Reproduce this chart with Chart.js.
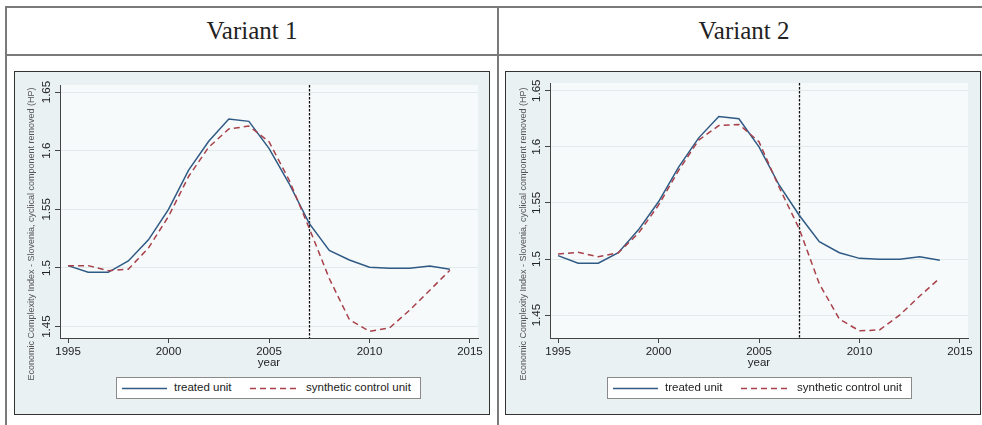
<!DOCTYPE html>
<html>
<head>
<meta charset="utf-8">
<script src="https://cdn.jsdelivr.net/npm/chart.js@4.4.1/dist/chart.umd.min.js"></script>
<style>
  body { margin: 0; width: 982px; height: 425px; overflow: hidden; background: #fff; position: relative;
         font-family: "Liberation Sans", Arial, sans-serif; }
  .rule { position: absolute; background: #7a7a7a; }
  .head { position: absolute; top: 8px; height: 46px; line-height: 46px; text-align: center;
          font-family: "Liberation Serif", "Times New Roman", serif; font-size: 25px; color: #222; }
  canvas { position: absolute; }
  .legend { position: absolute; width: 303px; height: 20px; background: #fff; border: 1px solid #8a8a8a;
            font-size: 11.5px; color: #222; }
  .legend svg, .legend span { position: absolute; }
  .legend span { top: 3px; }
</style>
</head>
<body>
<div class="rule" style="left:5px; top:6px; width:990px; height:2px"></div>
<div class="rule" style="left:5px; top:54px; width:990px; height:2px"></div>
<div class="rule" style="left:5px; top:6px; width:2px; height:430px"></div>
<div class="rule" style="left:497px; top:6px; width:2px; height:430px"></div>
<div class="head" style="left:7px; width:490px">Variant 1</div>
<div class="head" style="left:499px; width:490px">Variant 2</div>

<canvas id="chart1" width="476" height="344" style="left:14px; top:71px"></canvas>
<canvas id="chart2" width="476" height="344" style="left:505px; top:71px"></canvas>

<div class="legend" style="left:116px; top:377px">
  <svg width="46" height="20" style="left:5px; top:0"><line x1="0" y1="10.5" x2="45" y2="10.5" stroke="#2f5a85" stroke-width="1.5"/></svg>
  <span style="left:57px">treated unit</span>
  <svg width="50" height="20" style="left:133px; top:0"><line x1="0" y1="10.5" x2="48" y2="10.5" stroke="#a8414b" stroke-width="1.5" stroke-dasharray="6,4"/></svg>
  <span style="left:189px">synthetic control unit</span>
</div>
<div class="legend" style="left:607px; top:377px">
  <svg width="46" height="20" style="left:5px; top:0"><line x1="0" y1="10.5" x2="45" y2="10.5" stroke="#2f5a85" stroke-width="1.5"/></svg>
  <span style="left:57px">treated unit</span>
  <svg width="50" height="20" style="left:133px; top:0"><line x1="0" y1="10.5" x2="48" y2="10.5" stroke="#a8414b" stroke-width="1.5" stroke-dasharray="6,4"/></svg>
  <span style="left:189px">synthetic control unit</span>
</div>

<script>
// years and series
const years = [1995, 1996, 1997, 1998, 1999, 2000, 2001, 2002, 2003, 2004,
               2005, 2006, 2007, 2008, 2009, 2010, 2011, 2012, 2013, 2014];
const v1Treated   = [1.502, 1.4963, 1.4963, 1.506, 1.524, 1.550, 1.5835, 1.608, 1.627, 1.625,
                     1.602, 1.572, 1.538, 1.515, 1.5068, 1.5006, 1.4997, 1.4997, 1.5017, 1.499];
const v1Synthetic = [1.502, 1.502, 1.4977, 1.499, 1.517, 1.544, 1.578, 1.603, 1.6185, 1.621,
                     1.6077, 1.575, 1.534, 1.491, 1.456, 1.446, 1.4489, 1.464, 1.481, 1.498];
const v2Treated   = [1.503, 1.4962, 1.4962, 1.5056, 1.526, 1.551, 1.582, 1.608, 1.627, 1.625,
                     1.600, 1.566, 1.539, 1.5154, 1.5056, 1.5006, 1.4997, 1.4997, 1.502, 1.499];
const v2Synthetic = [1.5045, 1.506, 1.502, 1.5056, 1.523, 1.548, 1.579, 1.606, 1.619, 1.620,
                     1.6045, 1.564, 1.527, 1.478, 1.4464, 1.436, 1.4368, 1.450, 1.467, 1.483];
const xTicks = [1995, 2000, 2005, 2010, 2015];
const yTicks = [1.45, 1.5, 1.55, 1.6, 1.65];
const treatmentYear = 2007;
const yTitle = "Economic Complexity Index - Slovenia, cyclical component removed (HP)";

const FONT = '"Liberation Sans", Arial, sans-serif';
const blue = "#2f5a85";
const red = "#a8414b";

// stata-like background, frame, treatment line and rotated labels
function stataLook(opt) {
    return {
        id: "stataLook",
        beforeDraw(chart) {
            const { ctx, chartArea: a, width, height } = chart;
            ctx.save();
            ctx.fillStyle = "#e9f1f3";
            ctx.fillRect(0, 0, width, height);
            ctx.fillStyle = "#f7fafa";
            ctx.fillRect(a.left, a.top, a.right - a.left, a.bottom - a.top);
            ctx.strokeStyle = "#333";
            ctx.lineWidth = 1;
            ctx.strokeRect(0.5, 0.5, width - 1, height - 1);
            ctx.restore();
        },
        beforeDatasetsDraw(chart) {
            const { ctx, chartArea: a } = chart;
            const px = Math.round(chart.scales.x.getPixelForValue(treatmentYear)) + 0.5;
            ctx.save();
            ctx.strokeStyle = "#111";
            ctx.lineWidth = 1.3;
            ctx.setLineDash([2.5, 1.5]);
            ctx.beginPath();
            ctx.moveTo(px, a.top);
            ctx.lineTo(px, a.bottom);
            ctx.stroke();
            ctx.restore();
        },
        afterDraw(chart) {
            const { ctx, chartArea: a } = chart;
            const ys = chart.scales.y;
            ctx.save();
            ctx.fillStyle = "#222";
            ctx.textAlign = "center";
            ctx.textBaseline = "middle";
            ctx.font = "11.5px " + FONT;
            ys.ticks.forEach(t => {
                ctx.save();
                ctx.translate(opt.tickX, ys.getPixelForValue(t.value));
                ctx.rotate(-Math.PI / 2);
                ctx.fillText(String(t.value), 0, 0);
                ctx.restore();
            });
            ctx.fillText("year", (a.left + a.right) / 2, 292);
            ctx.fillStyle = "#555";
            ctx.font = "9px " + FONT;
            ctx.translate(opt.titleX, 163);
            ctx.rotate(-Math.PI / 2);
            ctx.fillText(yTitle, 0, 0);
            ctx.restore();
        }
    };
}

function makeChart(id, treated, synthetic, opt) {
    new Chart(document.getElementById(id), {
        type: "line",
        data: {
            datasets: [
                { label: "treated unit", data: years.map((x, i) => ({ x: x, y: treated[i] })),
                  borderColor: blue, borderWidth: 1.5, pointRadius: 0, tension: 0, order: 1 },
                { label: "synthetic control unit", data: years.map((x, i) => ({ x: x, y: synthetic[i] })),
                  borderColor: red, borderWidth: 1.5, borderDash: [6, 4], pointRadius: 0, tension: 0, order: 0 }
            ]
        },
        options: {
            responsive: false,
            animation: false,
            devicePixelRatio: 1,
            layout: { padding: { top: opt.top, right: opt.right, left: 0, bottom: 0 } },
            plugins: { legend: { display: false }, tooltip: { enabled: false } },
            scales: {
                x: {
                    type: "linear", min: 1994.6, max: 2015.4,
                    afterBuildTicks: s => { s.ticks = xTicks.map(v => ({ value: v })); },
                    afterFit: s => { s.height = 344 - 267; },
                    grid: { drawOnChartArea: false, tickLength: 5, tickColor: "#444" },
                    border: { color: "#444" },
                    ticks: { color: "#222", font: { family: FONT, size: 11.5 }, padding: 2,
                             maxRotation: 0, autoSkip: false, callback: v => String(v) }
                },
                y: {
                    type: "linear", min: opt.yMin, max: opt.yMax,
                    afterBuildTicks: s => { s.ticks = yTicks.map(v => ({ value: v })); },
                    afterFit: s => { s.width = opt.left; },
                    grid: { color: "#e2eaec", tickLength: 5, tickColor: "#444" },
                    border: { color: "#444" },
                    ticks: { display: false }
                }
            }
        },
        plugins: [stataLook(opt)]
    });
}

makeChart("chart1", v1Treated, v1Synthetic,
    { left: 46, right: 12, top: 14, yMin: 1.4403, yMax: 1.656, tickX: 33, titleX: 18 });
makeChart("chart2", v2Treated, v2Synthetic,
    { left: 45, right: 13, top: 12, yMin: 1.4296, yMax: 1.6569, tickX: 32, titleX: 19 });
</script>
</body>
</html>
